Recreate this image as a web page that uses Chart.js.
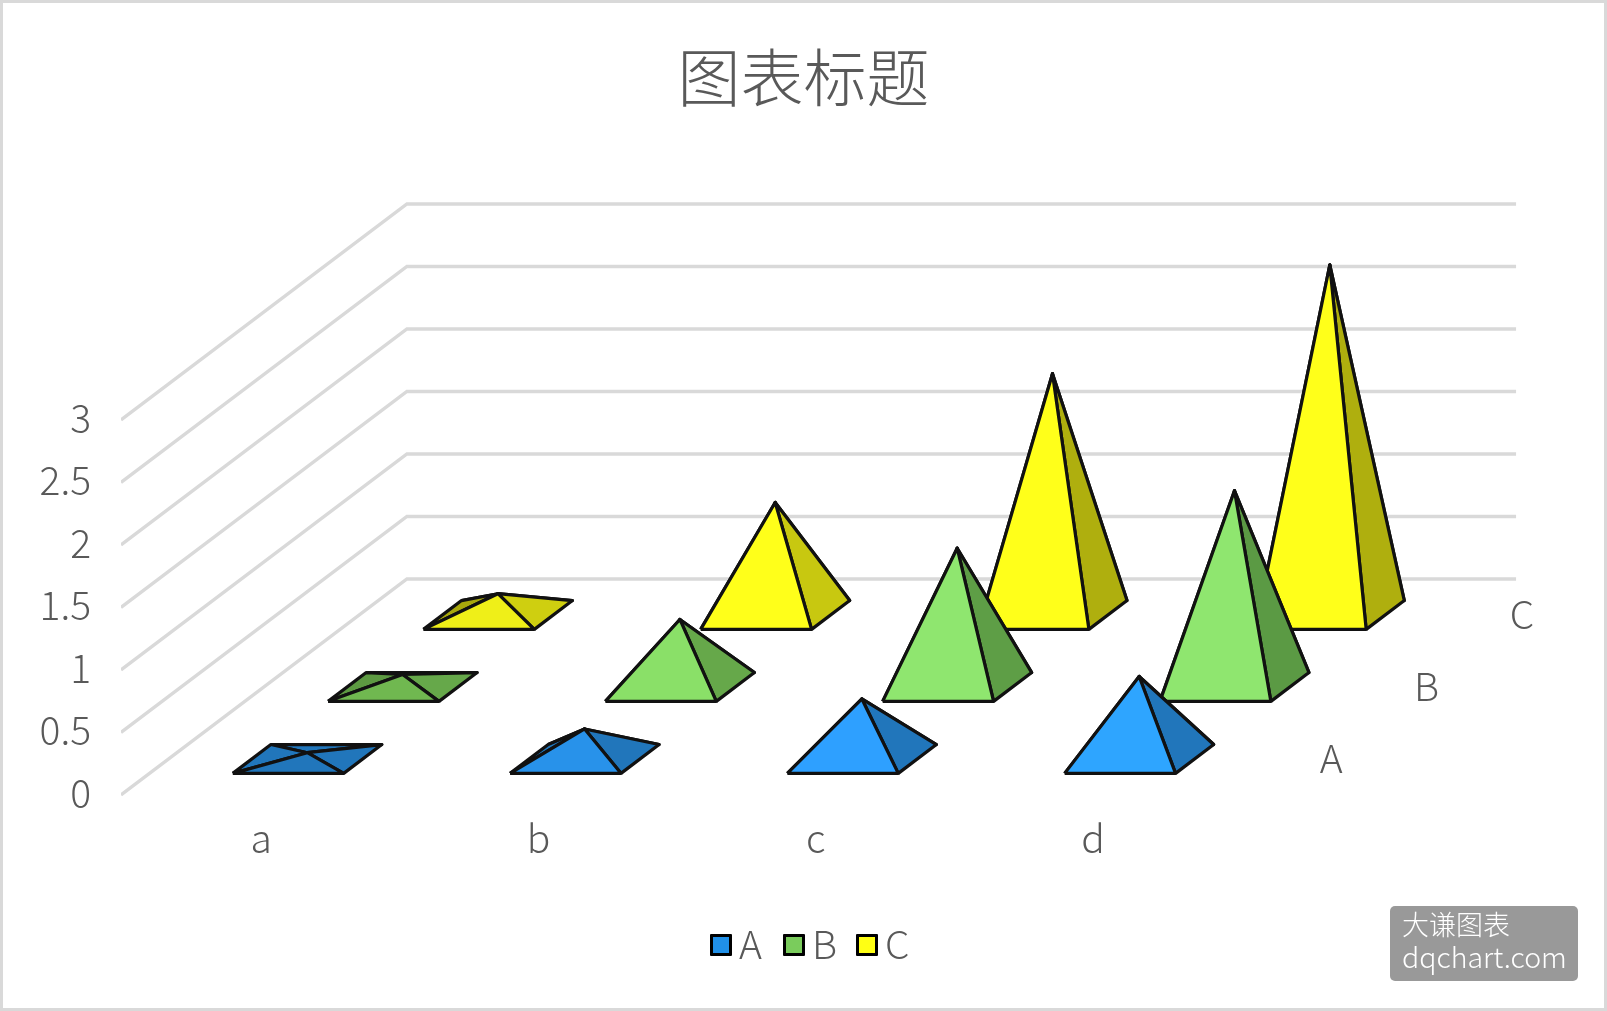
<!DOCTYPE html>
<html>
<head>
<meta charset="utf-8">
<title>图表标题</title>
<script src="https://cdn.jsdelivr.net/npm/chart.js@4"></script>
<style>
  html, body { margin: 0; background: #fff; }
  #wrap { position: relative; width: 1607px; height: 1011px; overflow: hidden; font-family: "Noto Sans CJK SC", sans-serif; }
  #frame { position: absolute; inset: 0; border: 3px solid #d9d9d9; pointer-events: none; }
  #legend { position: absolute; left: 710px; top: 917px; display: flex; color: #595959; font-size: 39px; font-weight: 300; line-height: 50px; }
  #legend .item { display: flex; align-items: center; width: 73px; }
  #legend i { width: 16px; height: 16px; border: 3px solid #000; border-radius: 1px; margin: 5px 7px 0 0; }
  #mark { position: absolute; left: 1390px; top: 906px; width: 188px; height: 75px; background: #999; border-radius: 5px; color: #fff; font-size: 27px; line-height: 32px; padding: 2px 0 0 12px; box-sizing: border-box; font-weight: 300; }
  #mark span { font-size: 28.5px; }
</style>
</head>
<body>
<div id="wrap">
  <canvas id="c" width="1607" height="1011"></canvas>
  <div id="legend"></div>
  <div id="mark">大谦图表<br><span>dqchart.com</span></div>
  <div id="frame"></div>
</div>
<script>
const CATEGORIES = ['a', 'b', 'c', 'd'];
const SERIES = ['A', 'B', 'C'];
const VALUES_A = [0.05, 0.24, 0.48, 0.66];
const VALUES_B = [0.10, 0.54, 1.11, 1.57];
const VALUES_C = [0.17, 0.90, 1.93, 2.80];
const Y_TICKS = [0, 0.5, 1, 1.5, 2, 2.5, 3];

const FONT = '"Noto Sans CJK SC", sans-serif';
const TEXT = '#595959';

// oblique projection: one depth unit in x-scale and y-scale units
const DEPTH_X = 0.3437;
const DEPTH_Y = 0.576;
const BAR_GAP = 0.3;   // pyramid base runs from 0.3 to 0.7 of its slot

const COLORS = {
  A: { legend: '#2090e8', front: ['#2176bb', '#2892ea', '#2ea0ff', '#2ea5ff'], right: ['#2176bb', '#2176bb', '#2176bb', '#2176bb'], left: '#2176bb' },
  B: { legend: '#7acc5c', front: ['#70b850', '#8ae068', '#8fe66f', '#8fe66f'], right: ['#66a84a', '#66a84a', '#5e9e46', '#5b9a44'], left: '#5d9a42' },
  C: { legend: '#ffff14', front: ['#efef18', '#ffff1a', '#ffff1a', '#ffff1a'], right: ['#cfcf10', '#c8c810', '#afaf0e', '#afaf0e'], left: '#a8a80c' },
};

const project = (x, z, v) => ({ x: x + z * DEPTH_X, y: v + z * DEPTH_Y });

function pyramidFaces(cat, ser, value) {
  const lo = BAR_GAP, hi = 1 - BAR_GAP;
  const fl = project(cat + lo, ser + lo, 0), fr = project(cat + hi, ser + lo, 0);
  const br = project(cat + hi, ser + hi, 0), bl = project(cat + lo, ser + hi, 0);
  const top = project(cat + 0.5, ser + 0.5, value);
  const pal = COLORS[SERIES[ser]];
  return [
    { pts: [bl, br, top, bl], col: pal.right[cat] },
    { pts: [fl, bl, top, fl], col: pal.left },
    { pts: [fr, br, top, fr], col: pal.right[cat] },
    { pts: [fl, fr, top, fl], col: pal.front[cat] },
  ];
}

const datasets = [];

// walls and floor lines
Y_TICKS.forEach(v => {
  datasets.push({
    data: [project(0, 0, v), project(0, 3, v), project(CATEGORIES.length, 3, v)],
    showLine: true, fill: false, pointRadius: 0, borderColor: '#d9d9d9', borderWidth: 3.4, borderJoinStyle: 'miter',
  });
});

// back row first so the front rows paint over it
[VALUES_C, VALUES_B, VALUES_A].forEach((vals, i) => {
  const ser = 2 - i;
  vals.forEach((v, cat) => {
    pyramidFaces(cat, ser, v).forEach(f => {
      datasets.push({
        data: f.pts, showLine: true, fill: 'shape', backgroundColor: f.col,
        borderColor: '#111', borderWidth: 3.2, borderJoinStyle: 'round', pointRadius: 0, tension: 0,
      });
    });
  });
});
datasets.forEach((d, i) => { d.order = datasets.length - i; });

// series names along the right side of the floor
const depthLabels = {
  id: 'depthLabels',
  afterDatasetsDraw(chart) {
    const { ctx, scales } = chart;
    ctx.save();
    ctx.font = `300 39px ${FONT}`;
    ctx.fillStyle = TEXT;
    ctx.textAlign = 'center';
    ctx.textBaseline = 'middle';
    SERIES.forEach((name, i) => {
      const p = project(CATEGORIES.length + 0.193, i + 0.5, 0.01);
      ctx.fillText(name, scales.x.getPixelForValue(p.x), scales.y.getPixelForValue(p.y));
    });
    ctx.restore();
  },
};

new Chart(document.getElementById('c'), {
  type: 'scatter',
  data: { datasets },
  plugins: [depthLabels],
  options: {
    responsive: false,
    animation: false,
    layout: { padding: { bottom: 139 } },
    plugins: {
      legend: { display: false },
      tooltip: { enabled: false },
      title: {
        display: true, text: '图表标题', color: TEXT,
        font: { family: FONT, size: 63, weight: '300', lineHeight: 1.2 },
        padding: { top: 39, bottom: 9.8 },
      },
    },
    scales: {
      x: {
        type: 'linear', min: 0, max: 5.359,
        grid: { display: false, drawTicks: false }, border: { display: false },
        afterBuildTicks: s => { s.ticks = CATEGORIES.map((_, i) => ({ value: i + 0.5 })); },
        afterFit: s => { s.height = 60; },
        ticks: {
          autoSkip: false, maxRotation: 0, padding: 3, labelOffset: 1.5, color: TEXT,
          font: { family: FONT, size: 39, weight: '300' },
          callback: v => CATEGORIES[Math.floor(v)],
        },
      },
      y: {
        type: 'linear', min: -0.1364, max: 5.3646,
        grid: { display: false, drawTicks: false }, border: { display: false },
        afterBuildTicks: s => { s.ticks = Y_TICKS.map(value => ({ value })); },
        afterFit: s => { s.width = 121; },
        ticks: {
          autoSkip: false, padding: 30, labelOffset: -2, color: TEXT,
          font: { family: FONT, size: 39, weight: '300' },
          callback: v => String(v),
        },
      },
    },
  },
});

// legend boxes sit tighter to their text than Chart.js allows, so it is plain html
const legend = document.getElementById('legend');
SERIES.forEach(name => {
  const item = document.createElement('div');
  item.className = 'item';
  item.innerHTML = `<i style="background:${COLORS[name].legend}"></i>${name}`;
  legend.append(item);
});
</script>
</body>
</html>
